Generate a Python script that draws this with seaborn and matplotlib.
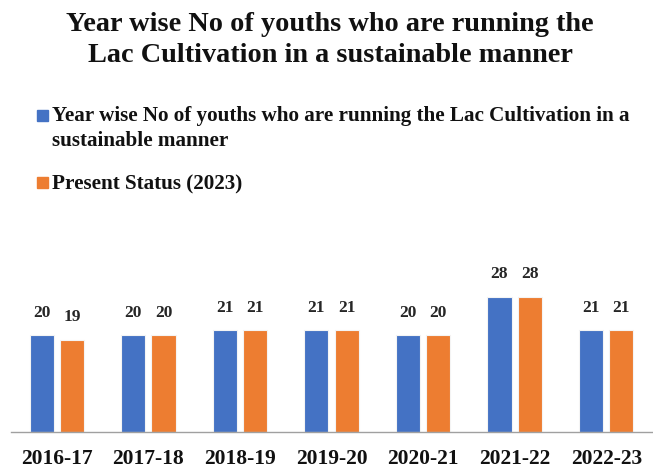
import matplotlib
matplotlib.use("Agg")
import matplotlib.pyplot as plt
from matplotlib.patches import Rectangle
import seaborn as sns
import pandas as pd

years = ["2016-17", "2017-18", "2018-19", "2019-20", "2020-21", "2021-22", "2022-23"]
youths_running = [20, 20, 21, 21, 20, 28, 21]
present_status = [19, 20, 21, 21, 20, 28, 21]
series_names = ["Year wise No of youths who are running the Lac Cultivation in a\nsustainable manner",
                "Present Status (2023)"]
title_text = "Year wise No of youths who are running the\nLac Cultivation in a sustainable manner"
colors = ["#4472C4", "#ED7D31"]

df = pd.DataFrame({
    "year": years * 2,
    "value": youths_running + present_status,
    "series": [series_names[0]] * len(years) + [series_names[1]] * len(years),
})

sns.set_theme(style="white")
plt.rcParams["font.family"] = ["Liberation Serif", "DejaVu Serif"]
plt.rcParams["font.weight"] = "bold"

W, H = 653, 469
fig = plt.figure(figsize=(W / 100, H / 100), dpi=100)
ax = fig.add_axes([11 / W, (H - 431.5) / H, 641 / W, 144.6 / H])

sns.barplot(data=df, x="year", y="value", hue="series", palette=colors,
            saturation=1, width=0.66, gap=0.2, edgecolor="#f4f4f4", linewidth=0.8,
            legend=False, ax=ax)

for cont in ax.containers:
    ax.bar_label(cont, fmt="%d", padding=10.5, fontsize=12.5, fontweight="bold",
                 color="#262626")

ax.set_ylim(0, 30)
ax.set_xlim(-0.5, len(years) - 0.5)
ax.set_xlabel("")
ax.set_ylabel("")
ax.set_yticks([])
for s in ["top", "right", "left"]:
    ax.spines[s].set_visible(False)
ax.spines["bottom"].set_color("#a0a0a0")
ax.spines["bottom"].set_linewidth(1.0)
ax.tick_params(axis="x", length=0, pad=12.5, labelsize=15.5, labelcolor="#111111")
for lbl in ax.get_xticklabels():
    lbl.set_fontweight("bold")

fig.text(330 / W, 1 - 40 / H, title_text, ha="center", va="center",
         fontsize=20.3, fontweight="bold", color="#111111", linespacing=1.3)

# legend
sq = 11
fig.patches.append(Rectangle((37 / W, 1 - 121 / H), sq / W, sq / H,
                             transform=fig.transFigure, color=colors[0]))
fig.patches.append(Rectangle((37 / W, 1 - 188 / H), sq / W, sq / H,
                             transform=fig.transFigure, color=colors[1]))
fig.text(52 / W, 1 - 106 / H, series_names[0], ha="left", va="top",
         fontsize=15.2, fontweight="bold", color="#111111", linespacing=1.3)
fig.text(52 / W, 1 - 184.5 / H, series_names[1], ha="left", va="center",
         fontsize=15.2, fontweight="bold", color="#111111")

fig.savefig("out.png", dpi=100)
